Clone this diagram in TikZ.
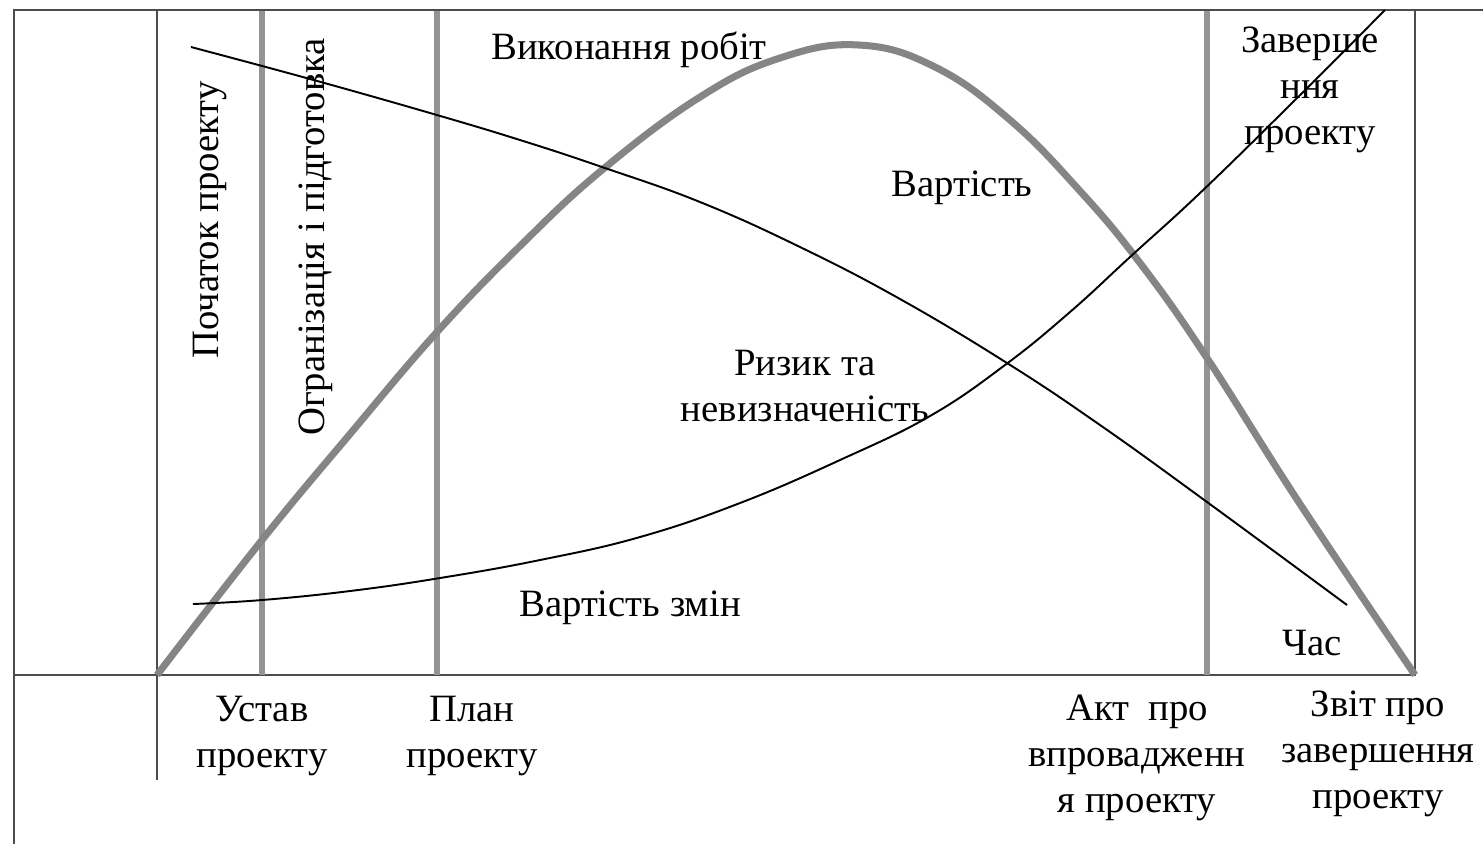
\documentclass[tikz,border=0pt]{standalone}
\usepackage{fontspec}
\setmainfont{Liberation Serif}
\begin{document}
\begin{tikzpicture}[x=0.01cm, y=-0.01cm,
	frame/.style={draw=black!70, line width=0.8pt},
	phase/.style={draw=black!42, line width=1.7pt},
	costline/.style={draw=black!48, line width=2pt, line join=round},
	blackline/.style={draw=black, line width=0.55pt},
	txt/.style={font=\fontsize{11}{13}\selectfont, align=center, inner sep=0pt}]
	\useasboundingbox (0,0) rectangle (1483,844);

	% frame and axes
	\draw[frame] (14,844) -- (14,10) -- (1483,10);
	\draw[frame] (14,675) -- (1415,675) -- (1415,10);
	\draw[frame] (157,10) -- (157,780);

	% phase borders
	\foreach \x in {262,437,1207}
		\draw[phase] (\x,11) -- (\x,675);

	% cost curve
	\draw[costline] plot[smooth, tension=0.7] coordinates {(157,675) (262,540) (350,434) (437,332) (520,246) (602,170) (700,97) (780,58) (859,45) (935,67) (1010,120) (1080,191) (1140,263) (1207,358) (1300,504) (1415,675)};

	% risk and uncertainty
	\draw[blackline] plot[smooth, tension=0.7] coordinates {(191,47) (310,79) (430,113) (520,140) (602,167) (700,202) (800,247) (900,299) (1007,363) (1100,425) (1207,502) (1347,605)};

	% cost of changes
	\draw[blackline] plot[smooth, tension=0.7] coordinates {(193,604) (262,600) (350,591) (440,578) (540,560) (640,537) (740,503) (840,460) (930,416) (1005,365) (1070,312) (1130,257) (1200,193) (1290,105) (1385,10)};

	% labels inside
	\node[txt, rotate=90] (start) at (210,220) {Початок проекту};
	\node[txt, rotate=90] (prep) at (316,237) {Огранізація і підготовка};
	\node[txt] (work) at (629,50) {Виконання робіт};
	\node[txt] (finish) at (1310,90) {Заверше\\ння\\проекту};
	\node[txt] (cost) at (962,188) {Вартість};
	\node[txt] (risk) at (805,386) {Ризик та\\невизначеність};
	\node[txt] (change) at (630,608) {Вартість змін};
	\node[txt] (time) at (1312,643) {Час};

	% documents below the axis
	\node[txt] (charter) at (262,736) {Устав\\проекту};
	\node[txt] (plan) at (472,736) {План\\проекту};
	\node[txt] (act) at (1137,758) {Акт\ \ про\\впровадженн\\я проекту};
	\node[txt] (report) at (1378,754) {Звіт про\\завершення\\проекту};
\end{tikzpicture}
\end{document}
